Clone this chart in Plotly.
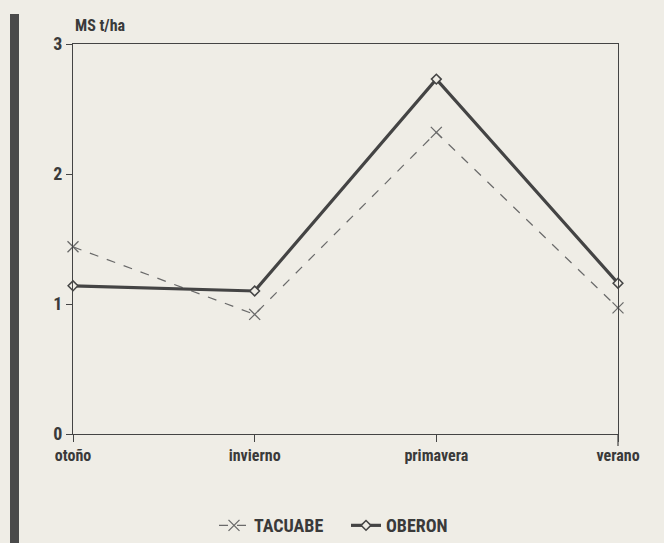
import plotly.graph_objects as go

seasons = ["otoño", "invierno", "primavera", "verano"]
tacuabe = [1.44, 0.92, 2.32, 0.97]
oberon = [1.14, 1.10, 2.73, 1.16]
y_ticks = [0, 1, 2, 3]

BG = "#efede6"
INK = "#3a3a3a"
FONT = "Liberation Sans Narrow, Arial Narrow, Roboto Condensed, Roboto, sans-serif"

fig = go.Figure()
fig.add_trace(go.Scatter(
    x=seasons, y=tacuabe, name="TACUABE", mode="lines+markers", cliponaxis=False,
    line=dict(color="#6a6a6a", width=1.2, dash="dash"),
    marker=dict(symbol="x-thin-open", size=11, line=dict(color="#555", width=1.3)),
))
fig.add_trace(go.Scatter(
    x=seasons, y=oberon, name="OBERON", mode="lines+markers", cliponaxis=False,
    line=dict(color="#444444", width=3.2),
    marker=dict(symbol="diamond", size=7.5, color=BG, line=dict(color="#444", width=1.5)),
))

fig.update_layout(
    width=664, height=543,
    margin=dict(l=73, r=46, t=44, b=109, autoexpand=False),
    paper_bgcolor=BG, plot_bgcolor=BG,
    font=dict(family=FONT, color=INK, size=15),
    showlegend=True,
    legend=dict(orientation="h", x=(214 - 73) / 545, xanchor="left", y=-0.235, yanchor="middle",
                font=dict(family=FONT, size=18, color=INK, weight="bold"),
                bgcolor="rgba(0,0,0,0)", itemwidth=30, entrywidth=87),
    xaxis=dict(type="category", range=[0, 3], showgrid=False, zeroline=False,
               showline=True, linecolor="#444", linewidth=1.2, mirror=True,
               ticks="outside", ticklen=7, tickcolor="#444", automargin=False,
               tickfont=dict(family=FONT, size=16, color=INK, weight="bold")),
    yaxis=dict(range=[0, 3], tickvals=y_ticks, showgrid=False, zeroline=False,
               showline=True, linecolor="#444", linewidth=1.2, mirror=True,
               ticks="outside", ticklen=6, tickcolor="#444", automargin=False,
               tickfont=dict(family=FONT, size=18, color=INK, weight="bold")),
    annotations=[dict(text="MS t/ha", xref="paper", yref="paper", x=0, y=1,
                      xanchor="left", yanchor="bottom", yshift=7, showarrow=False,
                      font=dict(family=FONT, size=16, color=INK, weight="bold"))],
    shapes=[
        dict(type="rect", xref="paper", yref="paper",
             x0=(10 - 73) / 545, x1=(19 - 73) / 545,
             y0=(434 - 543) / 390, y1=(434 - 14) / 390,
             fillcolor="#4a4a4a", line=dict(width=0), layer="above"),
        dict(type="line", xref="paper", yref="paper", x0=1, x1=1,
             y0=0, y1=-12 / 390, line=dict(color="#444", width=1.2)),
    ],
)

fig.write_html(
    "out.html",
    config={"displayModeBar": False},
    post_script="document.body.style.margin='0';document.body.style.background='#efede6';",
)
